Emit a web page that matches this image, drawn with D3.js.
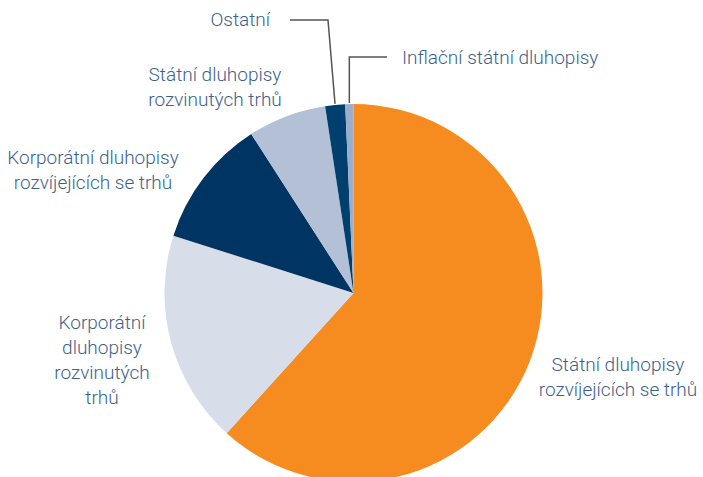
<!DOCTYPE html>
<html lang="cs">
<head>
<meta charset="utf-8">
<title>Struktura portfolia</title>
<script src="https://cdn.jsdelivr.net/npm/d3@7"></script>
<style>
  body { margin: 0; background: #fff; }
  .lbl { font-family: Roboto, "Liberation Sans", sans-serif; font-weight: 300; font-size: 19px; fill: #3d5f8a; }
  .leader { fill: none; stroke: #555; stroke-width: 1.5; }
</style>
</head>
<body>
<script>
// slices clockwise from 12 o'clock
const categories = [
  "Státní dluhopisy rozvíjejících se trhů",
  "Korporátní dluhopisy rozvinutých trhů",
  "Korporátní dluhopisy rozvíjejících se trhů",
  "Státní dluhopisy rozvinutých trhů",
  "Ostatní",
  "Inflační státní dluhopisy"
];
const shares = [61.7, 18.2, 11.0, 6.7, 1.7, 0.7];
const colors = ["#f68b1f", "#d7deea", "#003462", "#b3c0d6", "#003f6e", "#9aaecb"];

// label lines as drawn in the picture
const labelLines = [
  ["Státní dluhopisy", "rozvíjejících se trhů"],
  ["Korporátní", "dluhopisy", "rozvinutých", "trhů"],
  ["Korporátní dluhopisy", "rozvíjejících se trhů"],
  ["Státní dluhopisy", "rozvinutých trhů"],
  ["Ostatní"],
  ["Inflační státní dluhopisy"]
];

const W = 703, H = 477;
const cx = 353.5, cy = 293, R = 189;

const svg = d3.select("body").append("svg")
  .attr("width", W).attr("height", H);

const pie = d3.pie().sort(null).value(d => d);
const arcs = pie(shares);
const arc = d3.arc().innerRadius(0).outerRadius(R);

const g = svg.append("g").attr("transform", `translate(${cx},${cy})`);
g.selectAll("path")
  .data(arcs)
  .enter().append("path")
  .attr("d", arc)
  .attr("fill", (d, i) => colors[i]);

// label placement (anchor x, first baseline y, text-anchor)
const labelPos = [
  { x: 618, y: 371, a: "middle" },
  { x: 102, y: 329, a: "middle" },
  { x: 93, y: 164, a: "middle" },
  { x: 215, y: 81, a: "middle" },
  { x: 270, y: 26, a: "end" },
  { x: 402, y: 64, a: "start" }
];
const lh = 25;

labelLines.forEach((lines, i) => {
  const t = svg.append("text")
    .attr("class", "lbl")
    .attr("text-anchor", labelPos[i].a)
    .attr("x", labelPos[i].x)
    .attr("y", labelPos[i].y);
  lines.forEach((s, k) => {
    t.append("tspan")
      .attr("x", labelPos[i].x)
      .attr("dy", k === 0 ? 0 : lh)
      .text(s);
  });
});

// leader lines for the two thin slices, tied to arc midpoints
const edge = a => [cx + Math.sin(a) * (R + 1), cy - Math.cos(a) * (R + 1)];
const mOst = edge((arcs[4].startAngle + arcs[4].endAngle) / 2);
const mInf = edge((arcs[5].startAngle + arcs[5].endAngle) / 2);

svg.append("path").attr("class", "leader")
  .attr("d", d3.line()([[290, 20], [328, 20], mOst]));
svg.append("path").attr("class", "leader")
  .attr("d", d3.line()([[387, 57], [mInf[0], 57], mInf]));
</script>
</body>
</html>
